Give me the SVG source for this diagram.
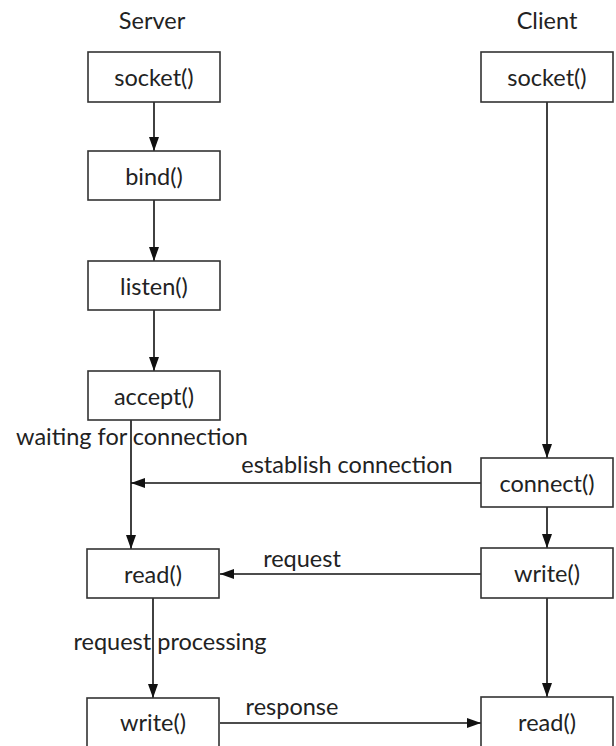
<svg xmlns="http://www.w3.org/2000/svg" width="616" height="746" viewBox="0 0 616 746">
<style>
.box{fill:#fff;stroke:#333;stroke-width:1.6}
text{font-family:"Lato","Open Sans","Liberation Sans",sans-serif;font-size:23.5px;fill:#222;dominant-baseline:central;text-anchor:middle}
.ln{stroke:#111;stroke-width:1.6;fill:none}
</style>
<defs>
<marker id="ah" viewBox="0 0 14 10" refX="14" refY="5" markerWidth="14" markerHeight="10" markerUnits="userSpaceOnUse" orient="auto">
<path d="M0,0 L14,5 L0,10 z" fill="#111"/>
</marker>
</defs>
<rect width="616" height="746" fill="#fff"/>
<g id="connectors">
<line class="ln" x1="154" y1="102" x2="154" y2="151" marker-end="url(#ah)"/>
<line class="ln" x1="154" y1="200" x2="154" y2="261" marker-end="url(#ah)"/>
<line class="ln" x1="154" y1="310" x2="154" y2="371" marker-end="url(#ah)"/>
<line class="ln" x1="131" y1="420" x2="131" y2="549" marker-end="url(#ah)"/>
<line class="ln" x1="547" y1="102" x2="547" y2="458" marker-end="url(#ah)"/>
<line class="ln" x1="481" y1="483" x2="131" y2="483" marker-end="url(#ah)"/>
<line class="ln" x1="547" y1="507" x2="547" y2="548" marker-end="url(#ah)"/>
<line class="ln" x1="481" y1="574" x2="220" y2="574" marker-end="url(#ah)"/>
<line class="ln" x1="153" y1="598" x2="153" y2="698" marker-end="url(#ah)"/>
<line class="ln" x1="547" y1="598" x2="547" y2="697" marker-end="url(#ah)"/>
<line class="ln" x1="220" y1="723" x2="481" y2="723" marker-end="url(#ah)"/>
<text x="132" y="436">waiting for connection</text>
<text x="347" y="464">establish connection</text>
<text x="302" y="558">request</text>
<text x="170" y="641">request processing</text>
<text x="292" y="706">response</text>
</g>
<g id="headers">
<text x="152" y="20">Server</text>
<text x="547" y="20">Client</text>
</g>
<g id="s-socket"><rect class="box" x="88" y="52" width="132" height="50"/><text x="154" y="77">socket()</text></g>
<g id="s-bind"><rect class="box" x="88" y="151" width="132" height="49"/><text x="154" y="175.5">bind()</text></g>
<g id="s-listen"><rect class="box" x="88" y="261" width="132" height="49"/><text x="154" y="285.5">listen()</text></g>
<g id="s-accept"><rect class="box" x="88" y="371" width="132" height="49"/><text x="154" y="395.5">accept()</text></g>
<g id="s-read"><rect class="box" x="87" y="549" width="132" height="49"/><text x="153" y="573.5">read()</text></g>
<g id="s-write"><rect class="box" x="87" y="698" width="132" height="60"/><text x="153" y="722">write()</text></g>
<g id="c-socket"><rect class="box" x="481" y="52" width="132" height="50"/><text x="547" y="77">socket()</text></g>
<g id="c-connect"><rect class="box" x="481" y="458" width="132" height="49"/><text x="547" y="482.5">connect()</text></g>
<g id="c-write"><rect class="box" x="481" y="548" width="132" height="50"/><text x="547" y="573">write()</text></g>
<g id="c-read"><rect class="box" x="481" y="697" width="132" height="60"/><text x="547" y="722">read()</text></g>
</svg>
